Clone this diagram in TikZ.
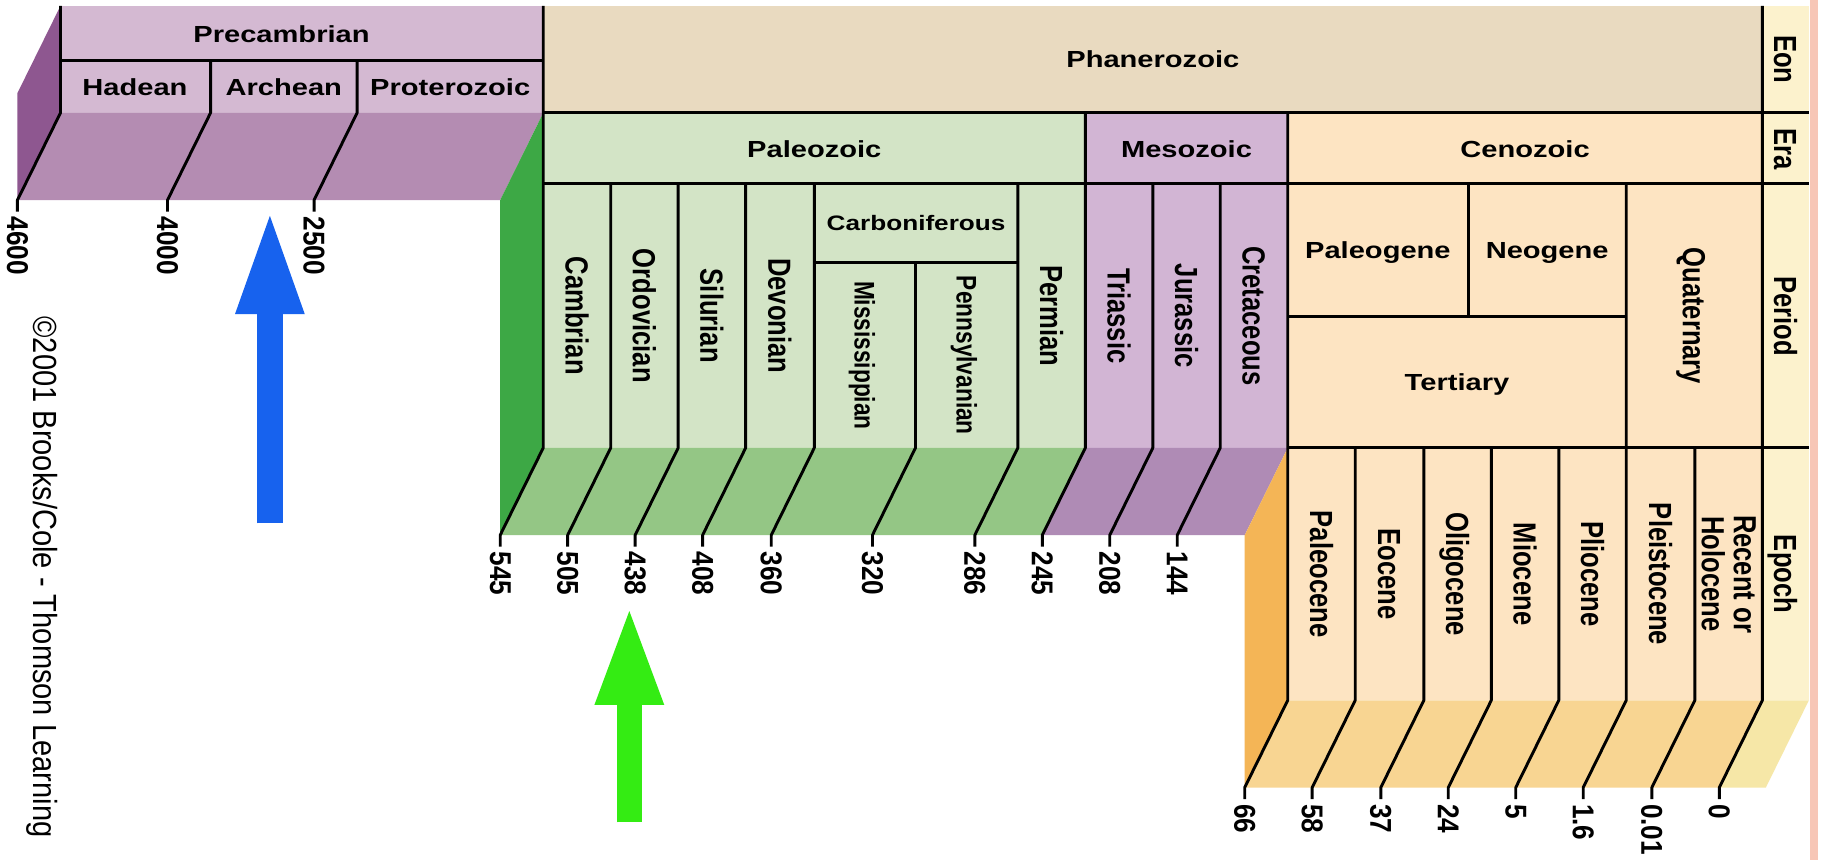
\documentclass[tikz,border=0pt]{standalone}
\usepackage{fontspec}
\setmainfont{Liberation Sans}
\usetikzlibrary{arrows.meta}
\definecolor{precamfront}{HTML}{D4B9D2}
\definecolor{precambase}{HTML}{B48CB2}
\definecolor{precamside}{HTML}{8E5790}
\definecolor{phanero}{HTML}{E9DAC0}
\definecolor{paleofront}{HTML}{D3E4C6}
\definecolor{paleobase}{HTML}{94C685}
\definecolor{paleoside}{HTML}{3DA845}
\definecolor{mesofront}{HTML}{D2B5D4}
\definecolor{mesobase}{HTML}{AF8BB5}
\definecolor{cenofront}{HTML}{FDE4C2}
\definecolor{cenobase}{HTML}{F8D592}
\definecolor{cenoside}{HTML}{F4B556}
\definecolor{keyfront}{HTML}{FCF2CD}
\definecolor{keybase}{HTML}{F6E7A7}
\definecolor{edgepink}{HTML}{F7C6B6}
\definecolor{arrowblue}{HTML}{1762EE}
\definecolor{arrowgreen}{HTML}{34EC13}

\tikzset{
  hlabel/.style={font=\fontsize{20}{22}\selectfont\bfseries, xscale=1.25,
    inner sep=0pt, text height=14.4pt, text depth=0pt},
  vlabel/.style={font=\fontsize{22}{22}\selectfont\bfseries, xscale=1.25, rotate=-90,
    inner sep=0pt, text height=15.8pt, text depth=0pt},
  agelabel/.style={font=\fontsize{22.5}{24}\selectfont\bfseries, xscale=1.15, rotate=-90,
    anchor=west, inner sep=0pt},
  bline/.style={line width=2.5pt, line join=round},
}

\begin{document}
\begin{tikzpicture}[x=1pt, y=-1pt]
  \useasboundingbox (0,0) rectangle (1568,739);
  \fill[white] (0,0) rectangle (1568,739);
  \fill[edgepink] (1556,0) rectangle (1563,739);

  % Front faces
  \fill[precamfront] (52,5) rectangle (467,97);
  \fill[phanero] (467,5) rectangle (1515,97);
  \fill[paleofront] (467,97) rectangle (933,385);
  \fill[mesofront] (933,97) rectangle (1107,385);
  \fill[cenofront] (1107,97) rectangle (1515,602);
  \fill[keyfront] (1515,5) rectangle (1555,602);

  % Depth faces
  \fill[precamside] (52,5) -- (52,97) -- (15,172) -- (15,80) -- cycle;
  \fill[precambase] (52,97) -- (467,97) -- (430,172) -- (15,172) -- cycle;
  \fill[paleoside] (467,97) -- (467,385) -- (430,460) -- (430,172) -- cycle;
  \fill[paleobase] (467,385) -- (933,385) -- (896,460) -- (430,460) -- cycle;
  \fill[mesobase] (933,385) -- (1107,385) -- (1070,460) -- (896,460) -- cycle;
  \fill[cenoside] (1107,385) -- (1107,602) -- (1070,677) -- (1070,460) -- cycle;
  \fill[cenobase] (1107,602) -- (1515,602) -- (1478,677) -- (1070,677) -- cycle;
  \fill[keybase] (1515,602) -- (1555,602) -- (1518,677) -- (1478,677) -- cycle;

  % Borders
  \draw[bline] (52,52) -- (467,52);
  \draw[bline] (467,97) -- (1555,97);
  \draw[bline] (467,158) -- (1555,158);
  \draw[bline] (700,226) -- (875,226);
  \draw[bline] (1107,272) -- (1398,272);
  \draw[bline] (1107,385) -- (1555,385);
  \draw[bline] (1262,158) -- (1262,272);

  % Boundaries with their ages
  \foreach \x/\yt/\lab [count=\i] in {52/5/4600, 181/52/4000, 307/52/2500}{
    \draw[bline] (\x,\yt) -- (\x,97) -- ++(-37,75) -- ++(0,10);
    \node[agelabel] (pc\i) at (\x-37,186) {\lab};
  }
  \foreach \x/\yt/\lab [count=\i] in {467/5/545, 525/158/505, 583/158/438,
      641/158/408, 700/158/360, 787/226/320, 875/158/286, 933/97/245,
      991/158/208, 1049/158/144}{
    \draw[bline] (\x,\yt) -- (\x,385) -- ++(-37,75) -- ++(0,10);
    \node[agelabel] (pz\i) at (\x-37,474) {\lab};
  }
  \foreach \x/\yt/\lab [count=\i] in {1107/97/66, 1165/385/58, 1224/385/37,
      1282/385/24, 1340/385/5, 1398/158/1.6, 1457/385/0.01, 1515/5/0}{
    \draw[bline] (\x,\yt) -- (\x,602) -- ++(-37,75) -- ++(0,10);
    \node[agelabel] (cz\i) at (\x-37,691) {\lab};
  }

  % Eons and eras
  \node[hlabel] (precambrian) at (242,29) {Precambrian};
  \node[hlabel] (hadean) at (116,75) {Hadean};
  \node[hlabel] (archean) at (244,75) {Archean};
  \node[hlabel] (proterozoic) at (387,75) {Proterozoic};
  \node[hlabel] (phanerozoic) at (991,51) {Phanerozoic};
  \node[hlabel] (paleozoic) at (700,128) {Paleozoic};
  \node[hlabel] (mesozoic) at (1020,128) {Mesozoic};
  \node[hlabel] (cenozoic) at (1311,128) {Cenozoic};

  % Periods
  \node[hlabel, font=\fontsize{18}{20}\selectfont\bfseries, text height=13pt]
    (carboniferous) at (787.5,192) {Carboniferous};
  \node[hlabel] (paleogene) at (1184.5,215) {Paleogene};
  \node[hlabel] (neogene) at (1330,215) {Neogene};
  \node[hlabel] (tertiary) at (1252.5,328.5) {Tertiary};
  \node[vlabel] (cambrian) at (496,271.5) {Cambrian};
  \node[vlabel] (ordovician) at (554,271.5) {Ordovician};
  \node[vlabel] (silurian) at (612,271.5) {Silurian};
  \node[vlabel] (devonian) at (670.5,271.5) {Devonian};
  \node[vlabel, font=\fontsize{19.5}{20}\selectfont\bfseries, text height=14pt]
    (mississippian) at (743.5,305.5) {Mississippian};
  \node[vlabel, font=\fontsize{19.5}{20}\selectfont\bfseries, text height=14pt]
    (pennsylvanian) at (831,305.5) {Pennsylvanian};
  \node[vlabel] (permian) at (904,271.5) {Permian};
  \node[vlabel] (triassic) at (962,271.5) {Triassic};
  \node[vlabel] (jurassic) at (1020,271.5) {Jurassic};
  \node[vlabel] (cretaceous) at (1078,271.5) {Cretaceous};
  \node[vlabel] (quaternary) at (1456.5,271.5) {Quaternary};

  % Epochs
  \node[vlabel] (paleocene) at (1136,493.5) {Paleocene};
  \node[vlabel] (eocene) at (1194.5,493.5) {Eocene};
  \node[vlabel] (oligocene) at (1253,493.5) {Oligocene};
  \node[vlabel] (miocene) at (1311,493.5) {Miocene};
  \node[vlabel] (pliocene) at (1369,493.5) {Pliocene};
  \node[vlabel] (pleistocene) at (1427.5,493.5) {Pleistocene};
  \node[vlabel, align=center, text height=, text depth=]
    (holocene) at (1486,493.5) {Recent or\\Holocene};

  % Key column
  \node[vlabel] (eon) at (1535,51) {Eon};
  \node[vlabel] (era) at (1535,128) {Era};
  \node[vlabel] (period) at (1535,271.5) {Period};
  \node[vlabel] (epoch) at (1535,493.5) {Epoch};

  % Credit
  \node[font=\fontsize{25}{25}\selectfont, xscale=1.15, rotate=-90, inner sep=0pt]
    (credit) at (36,496) {©2001 Brooks/Cole - Thomson Learning};

  % Arrows
  \coordinate (bluebase) at (232,450);
  \coordinate (bluetip) at (232,178);
  \coordinate (greenbase) at (541,707);
  \coordinate (greentip) at (541,518);
  \draw[arrowblue, line width=22pt, -{Triangle[length=92pt, width=52pt]}]
    (bluebase) -- (bluetip);
  \draw[arrowgreen, line width=22pt, -{Triangle[length=88pt, width=52pt]}]
    (greenbase) -- (greentip);
\end{tikzpicture}
\end{document}
